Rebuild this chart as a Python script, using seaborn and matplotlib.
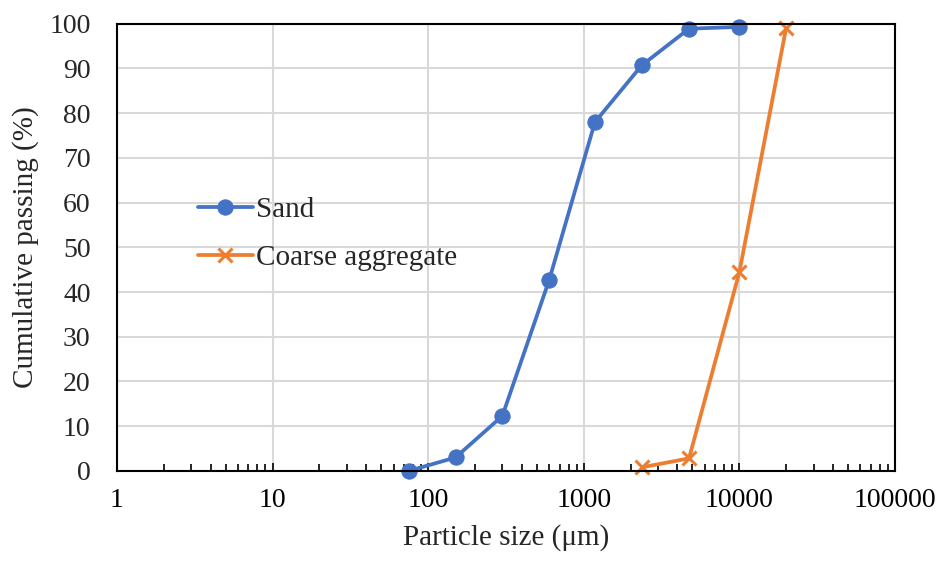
import matplotlib
matplotlib.use("Agg")
import matplotlib.pyplot as plt
import seaborn as sns
import numpy as np
import pandas as pd
from matplotlib.ticker import LogLocator, FixedLocator, NullFormatter

sand_size = [75, 150, 300, 600, 1180, 2360, 4750, 10000]
sand_pass = [0, 3, 12.3, 42.7, 78, 90.7, 98.9, 99.3]
coarse_size = [2360, 4750, 10000, 20000]
coarse_pass = [0.8, 2.8, 44.4, 99.1]

x_ticks = [1, 10, 100, 1000, 10000, 100000]
x_labels = ["1", "10", "100", "1000", "10000", "100000"]
y_ticks = list(range(0, 101, 10))

df = pd.concat([
    pd.DataFrame({"size": sand_size, "pass": sand_pass, "series": "Sand"}),
    pd.DataFrame({"size": coarse_size, "pass": coarse_pass, "series": "Coarse aggregate"}),
])

sns.set_theme(style="white")
plt.rcParams["font.family"] = ["Liberation Serif", "DejaVu Serif"]

fig, ax = plt.subplots(figsize=(9.43, 5.66), dpi=100)
fig.subplots_adjust(left=0.124, right=0.949, top=0.958, bottom=0.168)

blue = "#4472C4"
orange = "#ED7D31"
sns.lineplot(data=df[df.series == "Sand"], x="size", y="pass", ax=ax, color=blue,
             marker="o", markersize=11, linewidth=2.7, label="Sand",
             markeredgecolor=blue, sort=False, clip_on=False)
sns.lineplot(data=df[df.series == "Coarse aggregate"], x="size", y="pass", ax=ax,
             color=orange, marker="x", markersize=10, markeredgewidth=2.2,
             markeredgecolor=orange, linewidth=2.7, label="Coarse aggregate",
             sort=False, clip_on=False)

ax.set_xscale("log")
ax.set_xlim(1, 100000)
ax.set_ylim(0, 100)
ax.xaxis.set_major_locator(FixedLocator(x_ticks))
ax.set_xticklabels(x_labels)
ax.xaxis.set_minor_locator(LogLocator(base=10, subs=np.arange(2, 10)))
ax.xaxis.set_minor_formatter(NullFormatter())
ax.set_yticks(y_ticks)

ax.grid(True, which="major", color="#D9D9D9", linewidth=1.5)
ax.set_axisbelow(True)
for s in ax.spines.values():
    s.set_visible(True)
    s.set_color("black")
    s.set_linewidth(1.5)

ax.tick_params(axis="x", which="major", direction="in", length=6, width=1.2,
               labelsize=20, pad=12, bottom=True, colors="black")
ax.tick_params(axis="x", which="minor", direction="in", length=5, width=1.2,
               bottom=True, colors="black")
ax.tick_params(axis="y", which="major", length=0, labelsize=20, pad=19, left=True)

ax.set_xlabel("Particle size (μm)", fontsize=21, labelpad=8)
ax.set_ylabel("Cumulative passing (%)", fontsize=21, labelpad=7)

leg = ax.legend(loc="upper left", bbox_to_anchor=(0.07, 0.672), frameon=False,
                fontsize=21, handlelength=1.9, handletextpad=0.1, labelspacing=0.75)

fig.savefig("out.png", dpi=100)
